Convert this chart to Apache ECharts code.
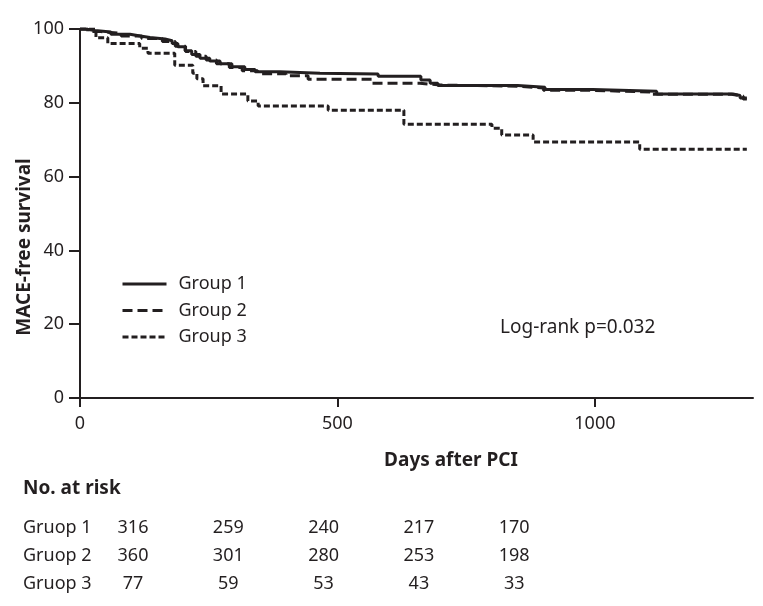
<!DOCTYPE html>
<html>
<head>
<meta charset="utf-8">
<script src="https://cdn.jsdelivr.net/npm/echarts@6/dist/echarts.min.js"></script>
<style>
html,body{margin:0;padding:0;background:#fff;}
#chart{width:763px;height:606px;}
</style>
</head>
<body>
<div id="chart"></div>
<script>
// ---- Data ----
const seriesNames = ['Group 1', 'Group 2', 'Group 3'];

const g1Days = [0, 10, 29, 60, 97, 117, 136, 165, 179, 190, 204, 217, 233, 252, 272, 295, 320, 340, 388, 466, 579, 662, 680, 695, 850, 903, 996, 1120, 1268, 1282, 1295];
const g1Surv = [100, 99.6, 99.2, 98.6, 98.1, 97.7, 97.3, 96.8, 96.1, 95.2, 94.1, 93.1, 92.1, 91.3, 90.6, 89.8, 89.0, 88.4, 88.0, 87.8, 87.2, 86.2, 85.3, 84.7, 84.2, 83.6, 83.1, 82.4, 82.0, 81.3, 81.3];

const g2Days = [0, 15, 40, 80, 120, 160, 185, 205, 225, 245, 265, 290, 315, 345, 400, 443, 567, 660, 700, 850, 900, 990, 1110, 1265, 1288, 1295];
const g2Surv = [100, 99.3, 98.8, 98.1, 97.4, 96.6, 95.3, 93.9, 92.6, 91.6, 90.6, 89.6, 88.7, 87.9, 87.3, 86.4, 85.3, 84.8, 84.5, 84.0, 83.4, 82.9, 82.3, 81.8, 81.0, 81.0];

const g3Days = [0, 31, 54, 116, 132, 184, 219, 227, 239, 274, 326, 346, 482, 629, 800, 819, 880, 1087, 1295];
const g3Surv = [100, 97.6, 96.1, 94.8, 93.4, 90.2, 88.0, 86.5, 84.6, 82.4, 80.5, 79.1, 78.0, 74.2, 73.1, 71.3, 69.4, 67.4, 67.4];

const xTicks = [0, 500, 1000];

const riskTitle = 'No. at risk';
const riskLabels = ['Gruop 1', 'Gruop 2', 'Gruop 3'];
const risk1 = [316, 259, 240, 217, 170];
const risk2 = [360, 301, 280, 253, 198];
const risk3 = [77, 59, 53, 43, 33];

const xTitle = 'Days after PCI';
const yTitle = 'MACE-free survival';
const pText = 'Log-rank p=0.032';

// ---- Layout / style ----
const INK = '#231f20';
const FONT = '"Noto Sans", "Liberation Sans", Arial, sans-serif';

function zip(d, s) { return d.map((v, i) => [v, s[i]]); }

const dashTypes = ['solid', [10, 5], [6, 3]];
const allData = [zip(g1Days, g1Surv), zip(g2Days, g2Surv), zip(g3Days, g3Surv)];

const series = seriesNames.map((n, i) => ({
  name: n,
  type: 'line',
  step: 'end',
  symbol: 'none',
  showSymbol: false,
  data: allData[i],
  z: 3 - i,
  lineStyle: { color: INK, width: 3, type: dashTypes[i], cap: 'butt' },
  itemStyle: { color: INK },
  emphasis: { disabled: true },
  animation: false
}));

const graphics = [];
graphics.push({
  type: 'text', x: 25, y: 247, rotation: Math.PI / 2,
  style: { text: yTitle, font: 'bold 19px ' + FONT, fill: INK, textAlign: 'center', textVerticalAlign: 'middle' }
});
graphics.push({
  type: 'text', x: 451, y: 461,
  style: { text: xTitle, font: 'bold 19px ' + FONT, fill: INK, textAlign: 'center', textVerticalAlign: 'middle' }
});
graphics.push({
  type: 'text', x: 500, y: 328,
  style: { text: pText, font: '19px ' + FONT, fill: INK, textAlign: 'left', textVerticalAlign: 'middle' }
});
graphics.push({
  type: 'text', x: 23, y: 489,
  style: { text: riskTitle, font: 'bold 19px ' + FONT, fill: INK, textAlign: 'left', textVerticalAlign: 'middle' }
});
const riskRows = [risk1, risk2, risk3];
const rowY0 = 528, rowStep = 28;
const colX0 = 133, colStep = 95.3;
riskRows.forEach((row, r) => {
  const y = rowY0 + r * rowStep;
  graphics.push({
    type: 'text', x: 23, y: y,
    style: { text: riskLabels[r], font: '18px ' + FONT, fill: INK, textAlign: 'left', textVerticalAlign: 'middle' }
  });
  row.forEach((v, c) => {
    graphics.push({
      type: 'text', x: colX0 + c * colStep, y: y,
      style: { text: String(v), font: '18px ' + FONT, fill: INK, textAlign: 'center', textVerticalAlign: 'middle' }
    });
  });
});

const option = {
  animation: false,
  backgroundColor: '#fff',
  grid: { left: 80, top: 29, width: 673, height: 369, containLabel: false },
  xAxis: {
    type: 'value', min: 0, max: 1307, interval: 500,
    splitLine: { show: false },
    axisLine: { show: true, onZero: false, lineStyle: { color: INK, width: 2 } },
    axisTick: { show: true, length: 9, lineStyle: { color: INK, width: 2 }, customValues: xTicks },
    axisLabel: { margin: 17, fontSize: 18, color: INK, fontFamily: FONT, customValues: xTicks,
                 formatter: function (v) { return String(v); } }
  },
  yAxis: {
    type: 'value', min: 0, max: 100, interval: 20,
    splitLine: { show: false },
    axisLine: { show: true, lineStyle: { color: INK, width: 2 } },
    axisTick: { show: true, length: 11, lineStyle: { color: INK, width: 2 } },
    axisLabel: { margin: 16, fontSize: 18, color: INK, fontFamily: FONT }
  },
  legend: {
    data: seriesNames,
    orient: 'vertical',
    left: 116, top: 270,
    itemWidth: 44, itemHeight: 14, itemGap: 8.5,
    selectedMode: false,
    itemStyle: { opacity: 0, borderWidth: 0 },
    lineStyle: { opacity: 1, width: 3 },
    textStyle: { fontSize: 18, color: INK, fontFamily: FONT, padding: [0, 0, 0, 7] }
  },
  series: series,
  graphic: graphics
};

const chart = echarts.init(document.getElementById('chart'), null, { renderer: 'canvas' });
chart.setOption(option);
</script>
</body>
</html>
